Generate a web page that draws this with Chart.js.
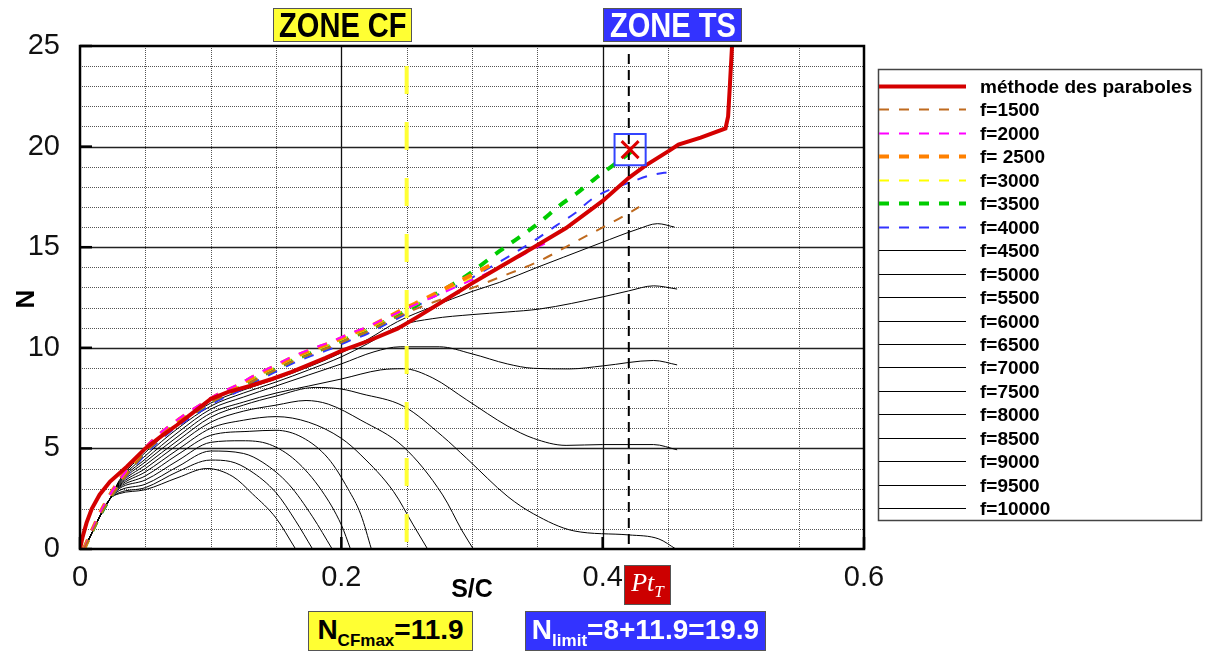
<!DOCTYPE html>
<html>
<head>
<meta charset="utf-8">
<script src="https://cdn.jsdelivr.net/npm/chart.js@4.4.1/dist/chart.umd.min.js"></script>
<style>
  html, body { margin: 0; padding: 0; background: #fff; }
  #wrap { position: relative; width: 1207px; height: 651px; font-family: "Liberation Sans", Arial, sans-serif; }
  #chart { position: absolute; left: 0; top: 0; }
  .tag { position: absolute; box-sizing: border-box; border: 1.5px solid #555; font-weight: bold; white-space: nowrap; text-align: center; }
  .tag sub { font-size: 17px; vertical-align: -7px; }
  .zone { display: flex; justify-content: center; align-items: center; overflow: visible; }
  .squeeze { display: inline-block; transform: scaleX(0.83); transform-origin: center; flex: none; }
</style>
</head>
<body>
<div id="wrap">
  <canvas id="chart" width="1207" height="651"></canvas>

  <div class="tag zone" style="left:273px;top:8px;width:139px;height:34px;background:#ffff33;color:#000;font-size:35px;line-height:32px;"><span class="squeeze">ZONE CF</span></div>
  <div class="tag zone" style="left:603px;top:8px;width:139px;height:34px;background:#3333ff;color:#fff;font-size:35px;line-height:32px;"><span class="squeeze">ZONE TS</span></div>

  <div class="tag" style="left:308px;top:611px;width:165px;height:40px;background:#ffff33;color:#000;font-size:28px;line-height:36px;">N<sub>CFmax</sub>=11.9</div>
  <div class="tag" style="left:525px;top:611px;width:241px;height:40px;background:#3333ff;color:#fff;font-size:28px;line-height:36px;">N<sub>limit</sub>=8+11.9=19.9</div>
  <div class="tag" style="left:624px;top:565px;width:47px;height:40px;background:#cc0000;color:#fff;font-family:'Liberation Serif',serif;font-weight:normal;font-style:italic;font-size:26px;line-height:34px;">Pt<sub style="font-size:17px;vertical-align:-6px;">T</sub></div>

  <div style="position:absolute;left:440px;top:574px;width:64px;text-align:center;font-weight:bold;font-size:25px;">S/C</div>
  <div style="position:absolute;left:10px;top:284px;width:30px;height:30px;text-align:center;font-weight:bold;font-size:26px;line-height:30px;transform:rotate(-90deg);">N</div>
</div>

<script>
// ---- data (S/C on x, N on y) ----
const xTicks = [0, 0.2, 0.4, 0.6];
const yTicks = [0, 5, 10, 15, 20, 25];

const redS = [0, 0.002, 0.005, 0.009, 0.015, 0.023, 0.036, 0.05, 0.062, 0.074, 0.087, 0.1, 0.113, 0.13, 0.147, 0.162, 0.175, 0.188, 0.2, 0.221, 0.243, 0.26, 0.28, 0.3, 0.321, 0.346, 0.372, 0.4, 0.42, 0.433, 0.451, 0.458, 0.475, 0.494, 0.496, 0.4975, 0.499];
const redN = [0, 0.6, 1.3, 2.0, 2.7, 3.35, 4.1, 5.0, 5.6, 6.15, 6.8, 7.45, 7.8, 8.1, 8.45, 8.8, 9.15, 9.5, 9.85, 10.35, 10.95, 11.6, 12.4, 13.2, 14.0, 14.95, 15.95, 17.3, 18.45, 19.07, 19.8, 20.1, 20.45, 20.9, 21.5, 23.2, 25];

const f1500S = [0.003, 0.008, 0.015, 0.023, 0.035, 0.05, 0.062, 0.076, 0.09, 0.105, 0.12, 0.134, 0.148, 0.162, 0.177, 0.192, 0.206, 0.22, 0.235, 0.25, 0.272, 0.296, 0.321, 0.352, 0.38, 0.41, 0.428];
const f1500N = [0, 0.65, 1.6, 2.5, 3.6, 4.8, 5.5, 6.25, 6.85, 7.45, 7.9, 8.4, 8.85, 9.3, 9.7, 10.05, 10.45, 10.8, 11.3, 11.75, 12.3, 12.87, 13.5, 14.33, 15.3, 16.33, 17.0];

const f2000S = [0.003, 0.008, 0.015, 0.023, 0.035, 0.05, 0.062, 0.076, 0.09, 0.105, 0.12, 0.134, 0.148, 0.162, 0.177, 0.192, 0.206, 0.22, 0.235, 0.25, 0.28, 0.321, 0.35, 0.36];
const f2000N = [0, 0.75, 1.75, 2.7, 3.85, 5.05, 5.8, 6.5, 7.1, 7.7, 8.15, 8.65, 9.1, 9.55, 9.95, 10.3, 10.7, 11.05, 11.5, 11.95, 12.8, 14.0, 15.0, 15.3];

const f2500S = [0.003, 0.008, 0.015, 0.023, 0.035, 0.05, 0.062, 0.076, 0.09, 0.105, 0.12, 0.134, 0.148, 0.162, 0.177, 0.192, 0.206, 0.22, 0.235, 0.25, 0.263, 0.29, 0.32];
const f2500N = [0, 0.75, 1.75, 2.7, 3.85, 5.0, 5.75, 6.45, 7.05, 7.65, 8.1, 8.6, 9.05, 9.5, 9.9, 10.25, 10.65, 11.0, 11.5, 12.0, 12.4, 13.3, 14.3];

const f3000S = [0.003, 0.008, 0.015, 0.023, 0.035, 0.05, 0.062, 0.076, 0.09, 0.105, 0.12, 0.134, 0.148, 0.162, 0.177, 0.192, 0.206, 0.22, 0.235, 0.25, 0.275, 0.3];
const f3000N = [0, 0.72, 1.7, 2.62, 3.78, 4.93, 5.68, 6.38, 6.98, 7.58, 8.03, 8.53, 8.98, 9.43, 9.83, 10.18, 10.58, 10.93, 11.43, 11.93, 12.7, 13.5];

const f3500S = [0.003, 0.008, 0.015, 0.023, 0.035, 0.05, 0.062, 0.076, 0.09, 0.105, 0.12, 0.134, 0.148, 0.162, 0.177, 0.192, 0.206, 0.22, 0.235, 0.25, 0.265, 0.295, 0.321, 0.352, 0.367, 0.38, 0.394, 0.408, 0.423];
const f3500N = [0, 0.7, 1.65, 2.55, 3.7, 4.85, 5.6, 6.3, 6.9, 7.5, 7.95, 8.45, 8.9, 9.35, 9.75, 10.1, 10.5, 10.85, 11.35, 11.85, 12.4, 13.55, 14.8, 16.25, 17.07, 17.67, 18.4, 19.07, 19.8];

const f4000S = [0.003, 0.008, 0.015, 0.023, 0.035, 0.05, 0.062, 0.076, 0.09, 0.105, 0.12, 0.134, 0.148, 0.162, 0.177, 0.192, 0.206, 0.22, 0.235, 0.25, 0.263, 0.292, 0.32, 0.35, 0.365, 0.379, 0.392, 0.407, 0.422, 0.437, 0.452];
const f4000N = [0, 0.65, 1.55, 2.45, 3.55, 4.7, 5.45, 6.15, 6.75, 7.35, 7.8, 8.3, 8.75, 9.2, 9.6, 9.95, 10.35, 10.7, 11.2, 11.7, 12.27, 13.2, 14.23, 15.43, 16.1, 16.7, 17.4, 17.9, 18.25, 18.58, 18.75];

const f4500S = [0.003, 0.008, 0.015, 0.023, 0.03, 0.05, 0.075, 0.1, 0.125, 0.15, 0.175, 0.2, 0.221, 0.243, 0.27, 0.3, 0.321, 0.35, 0.37, 0.398, 0.427, 0.442, 0.455];
const f4500N = [0, 0.65, 1.6, 2.5, 3.4, 4.8, 6.2, 7.25, 7.9, 8.45, 9.05, 9.75, 10.45, 11.3, 12.05, 12.8, 13.25, 14.0, 14.5, 15.2, 15.9, 16.17, 16.0];

const f5000S = [0.003, 0.008, 0.015, 0.023, 0.03, 0.05, 0.075, 0.1, 0.125, 0.15, 0.175, 0.2, 0.22, 0.245, 0.27, 0.3, 0.327, 0.352, 0.4, 0.42, 0.439, 0.457];
const f5000N = [0, 0.65, 1.6, 2.5, 3.35, 4.63, 6.0, 7.1, 7.75, 8.3, 8.9, 9.55, 10.2, 11.1, 11.45, 11.65, 11.78, 11.93, 12.53, 12.83, 13.08, 12.92];

const f5500S = [0.003, 0.008, 0.015, 0.023, 0.03, 0.05, 0.075, 0.1, 0.125, 0.15, 0.175, 0.2, 0.225, 0.245, 0.275, 0.3, 0.327, 0.347, 0.375, 0.4, 0.439, 0.457];
const f5500N = [0, 0.65, 1.6, 2.5, 3.3, 4.47, 5.8, 6.95, 7.55, 8.1, 8.65, 9.2, 9.8, 10.05, 10.05, 9.7, 9.2, 8.98, 8.95, 9.1, 9.37, 9.15];

const f6000S = [0.003, 0.008, 0.015, 0.023, 0.03, 0.05, 0.075, 0.1, 0.125, 0.15, 0.175, 0.2, 0.23, 0.2475, 0.27, 0.296, 0.3275, 0.347, 0.372, 0.4, 0.439, 0.457];
const f6000N = [0, 0.65, 1.6, 2.5, 3.25, 4.33, 5.6, 6.75, 7.3, 7.75, 8.1, 8.45, 8.9, 8.96, 8.5, 7.41, 6.1, 5.5, 5.15, 5.19, 5.19, 4.93];

const f6500S = [0.003, 0.008, 0.015, 0.023, 0.03, 0.05, 0.075, 0.1, 0.125, 0.15, 0.18, 0.2, 0.215, 0.2475, 0.2775, 0.296, 0.3275, 0.347, 0.378, 0.42, 0.443, 0.456];
const f6500N = [0, 0.65, 1.6, 2.5, 3.2, 4.17, 5.4, 6.55, 7.15, 7.6, 8.03, 7.95, 7.72, 7.1, 5.6, 4.5, 2.6, 1.75, 0.9, 0.7, 0.5, 0];

const f7000S = [0.003, 0.008, 0.015, 0.023, 0.03, 0.05, 0.075, 0.1, 0.125, 0.15, 0.173, 0.19, 0.215, 0.2475, 0.2775, 0.2925, 0.301];
const f7000N = [0, 0.65, 1.6, 2.5, 3.15, 4.0, 5.2, 6.3, 6.85, 7.15, 7.38, 7.2, 6.4, 5.08, 2.69, 0.9, 0];

const f7500S = [0.003, 0.008, 0.015, 0.023, 0.03, 0.05, 0.075, 0.1, 0.125, 0.15, 0.175, 0.2, 0.215, 0.24, 0.255, 0.266];
const f7500N = [0, 0.65, 1.6, 2.5, 3.1, 3.83, 4.95, 6.0, 6.4, 6.58, 6.3, 5.5, 4.67, 2.85, 1.2, 0];

const f8000S = [0.003, 0.008, 0.015, 0.023, 0.03, 0.05, 0.075, 0.1, 0.13, 0.15, 0.17, 0.19, 0.205, 0.215, 0.223];
const f8000N = [0, 0.65, 1.6, 2.5, 3.05, 3.63, 4.7, 5.65, 5.85, 5.9, 5.55, 4.5, 3.0, 1.7, 0];

const f8500S = [0.003, 0.008, 0.015, 0.023, 0.03, 0.05, 0.075, 0.1, 0.124, 0.145, 0.165, 0.185, 0.2, 0.207];
const f8500N = [0, 0.65, 1.6, 2.5, 3.0, 3.43, 4.4, 5.3, 5.38, 5.2, 4.4, 2.9, 1.2, 0];

const f9000S = [0.003, 0.008, 0.015, 0.023, 0.03, 0.05, 0.075, 0.1, 0.125, 0.14, 0.16, 0.178, 0.193];
const f9000N = [0, 0.65, 1.6, 2.5, 2.9, 3.22, 4.1, 4.87, 4.75, 4.3, 3.2, 1.6, 0];

const f9500S = [0.003, 0.008, 0.015, 0.023, 0.03, 0.05, 0.075, 0.1, 0.115, 0.13, 0.15, 0.165, 0.178];
const f9500N = [0, 0.65, 1.6, 2.5, 2.8, 3.05, 3.85, 4.42, 4.35, 3.9, 2.8, 1.4, 0];

const f10000S = [0.003, 0.008, 0.015, 0.023, 0.03, 0.05, 0.075, 0.097, 0.117, 0.132, 0.15, 0.165];
const f10000N = [0, 0.65, 1.6, 2.5, 2.75, 2.95, 3.55, 4.0, 3.6, 2.74, 1.54, 0];

// vertical zone lines and the Pt_T point
const zoneCfS = 0.25, zoneCfTop = 24;
const zoneTsS = 0.42, zoneTsTop = 24.6;
const ptS = 0.421, ptN = 19.85;

function pts(xs, ys) { return xs.map((x, i) => ({ x: x, y: ys[i] })); }

function curve(label, xs, ys, color, width, dash, smooth) {
  const ds = {
    label: label, data: pts(xs, ys),
    borderColor: color, backgroundColor: color, borderWidth: width,
    borderDash: dash || [], pointRadius: 0, fill: false, tension: 0,
    inLegend: true,
  };
  if (smooth !== false) ds.cubicInterpolationMode = 'monotone';
  return ds;
}

const datasets = [
  curve("méthode des paraboles", redS, redN, "#d40000", 4, [], false),
  curve("f=1500", f1500S, f1500N, "#bf6a1f", 2, [10, 10]),
  curve("f=2000", f2000S, f2000N, "#ff00ff", 2, [10, 10]),
  curve("f= 2500", f2500S, f2500N, "#ff8000", 4, [10, 10]),
  curve("f=3000", f3000S, f3000N, "#ffff00", 2, [10, 10]),
  curve("f=3500", f3500S, f3500N, "#00cc00", 4, [10, 10]),
  curve("f=4000", f4000S, f4000N, "#3333ff", 2, [10, 10]),
  curve("f=4500", f4500S, f4500N, "#000", 1),
  curve("f=5000", f5000S, f5000N, "#000", 1),
  curve("f=5500", f5500S, f5500N, "#000", 1),
  curve("f=6000", f6000S, f6000N, "#000", 1),
  curve("f=6500", f6500S, f6500N, "#000", 1),
  curve("f=7000", f7000S, f7000N, "#000", 1),
  curve("f=7500", f7500S, f7500N, "#000", 1),
  curve("f=8000", f8000S, f8000N, "#000", 1),
  curve("f=8500", f8500S, f8500N, "#000", 1),
  curve("f=9000", f9000S, f9000N, "#000", 1),
  curve("f=9500", f9500S, f9500N, "#000", 1),
  curve("f=10000", f10000S, f10000N, "#000", 1),
  {
    label: "zone CF", data: pts([zoneCfS, zoneCfS], [zoneCfTop, 0]),
    borderColor: "#ffff33", borderWidth: 4, borderDash: [28, 28], pointRadius: 0, order: -1,
  },
  {
    label: "zone TS", data: pts([zoneTsS, zoneTsS], [zoneTsTop, 0]),
    borderColor: "#000", borderWidth: 2, borderDash: [10, 6], pointRadius: 0, order: -1,
  },
  {
    label: "PtT box", data: pts([ptS], [ptN]), showLine: false,
    pointStyle: "rect", pointRadius: 22, pointBorderColor: "#3344ff", pointBorderWidth: 2,
    pointBackgroundColor: "rgba(0,0,0,0)", order: -2,
  },
  {
    label: "PtT", data: pts([ptS], [ptN]), showLine: false,
    pointStyle: "crossRot", pointRadius: 12, pointBorderColor: "#dd0000", pointBorderWidth: 3, order: -3,
  },
];

// dotted minor / solid major grid + inner ticks, drawn under the curves
const gridPlugin = {
  id: "tecGrid",
  beforeDatasetsDraw(chart) {
    const { ctx, chartArea: a, scales: { x, y } } = chart;
    ctx.save();
    for (let i = 1; i < 12; i++) {
      const v = i * 0.05;
      const px = Math.round(x.getPixelForValue(v)) + 0.5;
      const major = i % 4 === 0;
      ctx.setLineDash(major ? [] : [1, 1]);
      ctx.strokeStyle = major ? "#111" : "#555";
      ctx.lineWidth = major ? 1.3 : 1;
      ctx.beginPath(); ctx.moveTo(px, a.top); ctx.lineTo(px, a.bottom); ctx.stroke();
    }
    for (let j = 1; j < 25; j++) {
      const py = Math.round(y.getPixelForValue(j)) + 0.5;
      const major = j % 5 === 0;
      ctx.setLineDash(major ? [] : [1, 1]);
      ctx.strokeStyle = major ? "#222" : "#555";
      ctx.lineWidth = major ? 1.3 : 1;
      ctx.beginPath(); ctx.moveTo(a.left, py); ctx.lineTo(a.right, py); ctx.stroke();
    }
    ctx.setLineDash([]);
    ctx.strokeStyle = "#000";
    ctx.lineWidth = 2.5;
    yTicks.forEach(v => {
      const py = y.getPixelForValue(v);
      ctx.beginPath(); ctx.moveTo(a.left, py); ctx.lineTo(a.left + 12, py); ctx.stroke();
    });
    xTicks.forEach(v => {
      const px = x.getPixelForValue(v);
      ctx.beginPath(); ctx.moveTo(px, a.bottom); ctx.lineTo(px, a.bottom - 12); ctx.stroke();
    });
    ctx.restore();
  },
  afterDatasetsDraw(chart) {
    const { ctx, chartArea: a } = chart;
    ctx.save();
    ctx.strokeStyle = "#000";
    ctx.lineWidth = 2.5;
    ctx.strokeRect(a.left, a.top, a.right - a.left, a.bottom - a.top);
    ctx.restore();
  },
};

// boxed legend on the right, built from the dataset styles
const legendPlugin = {
  id: "boxLegend",
  afterDraw(chart) {
    const ctx = chart.ctx;
    const items = chart.data.datasets.filter(d => d.inLegend);
    ctx.save();
    ctx.strokeStyle = "#444";
    ctx.lineWidth = 1.5;
    ctx.strokeRect(878.5, 69.5, 323, 451);
    ctx.font = "bold 19px 'Liberation Sans', Arial, sans-serif";
    ctx.textBaseline = "middle";
    ctx.fillStyle = "#000";
    items.forEach((d, i) => {
      const yy = Math.round(86 + i * 23.45) + 0.5;
      ctx.setLineDash(d.borderDash || []);
      ctx.strokeStyle = d.borderColor;
      ctx.lineWidth = d.borderWidth;
      ctx.beginPath(); ctx.moveTo(879, yy); ctx.lineTo(966, yy); ctx.stroke();
      ctx.setLineDash([]);
      ctx.fillText(d.label, 980, yy + 1);
    });
    ctx.restore();
  },
};

const tickFont = { family: "'Liberation Sans', Arial, sans-serif", size: 29 };

new Chart(document.getElementById("chart").getContext("2d"), {
  type: "line",
  data: { datasets: datasets },
  options: {
    responsive: false,
    animation: false,
    layout: { padding: { left: 0, right: 343, top: 46, bottom: 62 } },
    plugins: { legend: { display: false }, tooltip: { enabled: false } },
    scales: {
      x: {
        type: "linear", min: 0, max: 0.6,
        afterFit(s) { s.height = 40; },
        afterBuildTicks(s) { s.ticks = xTicks.map(v => ({ value: v })); },
        ticks: { color: "#111", font: tickFont, padding: 4, maxRotation: 0,
                 callback: v => (v === 0 ? "0" : v.toFixed(1)) },
        grid: { display: false }, border: { display: false },
      },
      y: {
        type: "linear", min: 0, max: 25,
        afterFit(s) { s.width = 80; },
        afterBuildTicks(s) { s.ticks = yTicks.map(v => ({ value: v })); },
        ticks: { color: "#111", font: tickFont, padding: 12 },
        grid: { display: false }, border: { display: false },
      },
    },
  },
  plugins: [gridPlugin, legendPlugin],
});
</script>
</body>
</html>
